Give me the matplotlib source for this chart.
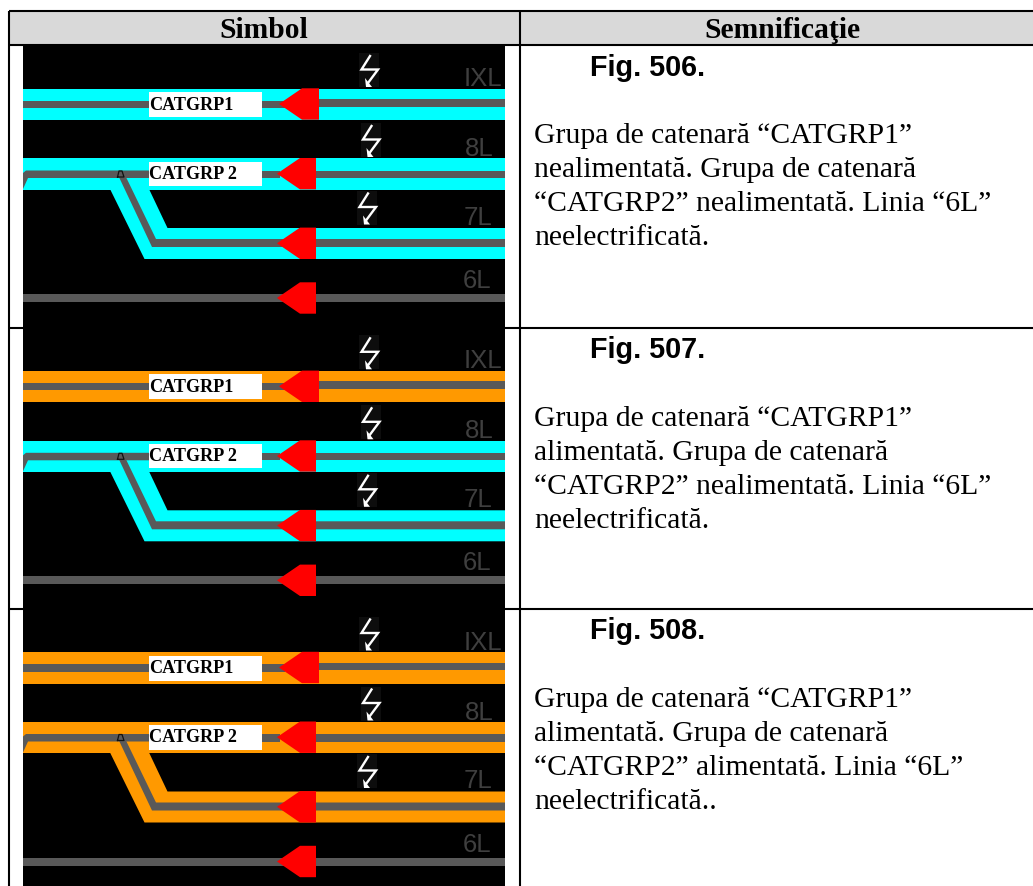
# table of catenary group symbols, three rows, each with a track diagram drawn by hand
import matplotlib
matplotlib.use('Agg')
import matplotlib.pyplot as plt
from matplotlib.patches import Polygon, Rectangle

headers = ['Simbol', 'Semnificaţie']
fig_labels = ['Fig. 506.', 'Fig. 507.', 'Fig. 508.']
descriptions = [
    ['Grupa de catenară “CATGRP1”', 'nealimentată. Grupa de catenară', '“CATGRP2” nealimentată. Linia “6L”', 'neelectrificată.'],
    ['Grupa de catenară “CATGRP1”', 'alimentată. Grupa de catenară', '“CATGRP2” nealimentată. Linia “6L”', 'neelectrificată.'],
    ['Grupa de catenară “CATGRP1”', 'alimentată. Grupa de catenară', '“CATGRP2” alimentată. Linia “6L”', 'neelectrificată..'],
]
group_labels = ['CATGRP1', 'CATGRP\u20092']
line_labels = ['IXL', '8L', '7L', '6L']
group1_state = ['off', 'on', 'on']
group2_state = ['off', 'off', 'on']

state_colors = {'off': '#00ffff', 'on': '#ff9900'}
GRAY = '#595959'
RED = '#ff0000'
LABEL_GRAY = '#3f3f3f'

fig = plt.figure(figsize=(10.33, 8.86), dpi=100)
ax = fig.add_axes([0, 0, 1, 1])
ax.set_xlim(0, 1033)
ax.set_ylim(886, 0)
ax.axis('off')


def poly(pts, color, z=3):
    ax.add_patch(Polygon(pts, closed=True, fc=color, ec='none', zorder=z))


def rect(x0, y0, x1, y1, color, z=3):
    ax.add_patch(Rectangle((x0, y0), x1 - x0, y1 - y0, fc=color, ec='none', zorder=z))


def signal(xr, y, dx=0):
    # red triangle pointing left, flat top and bottom at the back
    poly([(xr - 39 - dx, y), (xr - 16 - dx, y - 15.7), (xr, y - 15.7), (xr, y + 15.7), (xr - 16 - dx, y + 15.7)], RED, 5)


def bolt(x, y):
    rect(x - 11, y - 3, x + 9, y + 31, '#0d0d0d', 2.5)
    ax.plot([x, x - 8.5, x + 8, x - 2], [y, y + 13.5, y + 13.5, y + 27], color='white', lw=1.7, zorder=4, solid_joinstyle='miter')
    poly([(x - 5, y + 22), (x - 4, y + 31), (x + 2, y + 31)], 'white', 4)


def panel(dy, color1, color2):
    # first track, group 1
    rect(23, 88.5 + dy, 505, 120 + dy, color1)
    rect(23, 100.7 + dy, 149, 108 + dy, GRAY, 4)
    rect(262, 100.7 + dy, 285, 108 + dy, GRAY, 4)
    rect(319, 99 + dy, 505, 106.7 + dy, GRAY, 4)
    rect(149, 92 + dy, 262, 117 + dy, 'white', 4)
    signal(319, 104 + dy, 1)

    # second track, group 2, with the diagonal down to the third track
    rect(23, 158.3 + dy, 505, 189.5 + dy, color2)
    poly([(110, 189 + dy), (144.5, 259 + dy), (505, 259 + dy), (505, 228 + dy), (167.5, 228 + dy), (149, 189 + dy)], color2)
    poly([(23, 189 + dy), (23, 173 + dy), (26, 170.5 + dy), (149, 170.5 + dy), (149, 178 + dy), (28, 178 + dy)], GRAY, 4)
    rect(262, 170.5 + dy, 280, 178 + dy, GRAY, 4)
    rect(316, 170.5 + dy, 505, 178 + dy, GRAY, 4)
    poly([(118, 175 + dy), (125, 175 + dy), (156, 239 + dy), (505, 239 + dy), (505, 247 + dy), (152, 247 + dy)], GRAY, 4)
    ax.plot([117.5, 119, 122, 124, 117.5], [177 + dy, 171 + dy, 171 + dy, 177 + dy, 177 + dy], color='#111111', lw=0.9, zorder=4.5)
    rect(149, 161.5 + dy, 262, 186 + dy, 'white', 4)
    signal(316, 173.7 + dy)
    signal(316, 243.3 + dy)

    # fourth track is not electrified
    rect(23, 294 + dy, 505, 302 + dy, GRAY, 4)
    signal(316, 298 + dy)

    for xb, yb in [(370, 56), (371.5, 126), (368, 193.5)]:
        bolt(xb, yb + dy)

    for name, xt, yt in zip(line_labels, [464, 464.5, 463.5, 463], [86, 156, 225, 288]):
        ax.text(xt, yt + dy, name, family='Liberation Sans', fontsize=18.5, color=LABEL_GRAY,
                ha='left', va='baseline', zorder=4)

    ax.text(149, 109.5 + dy, group_labels[0], family=['Liberation Serif', 'DejaVu Serif'], weight='bold', fontsize=13.1,
            color='black', ha='left', va='baseline', zorder=6)
    ax.text(149, 179 + dy, group_labels[1], family=['Liberation Serif', 'DejaVu Serif'], weight='bold', fontsize=13.1,
            color='black', ha='left', va='baseline', zorder=6)


# table frame
rect(9, 11, 1033, 45, '#d9d9d9', 1)
for y in [11, 45, 327.6, 608.7]:
    ax.plot([9, 1033], [y, y], color='black', lw=1.5, zorder=1.5, solid_capstyle='butt')
ax.plot([9, 9], [10.5, 886], color='black', lw=1.5, zorder=1.5, solid_capstyle='butt')
ax.plot([519.7, 519.7], [10.5, 886], color='black', lw=1.5, zorder=1.5, solid_capstyle='butt')

ax.text(264, 37.7, headers[0], family='Liberation Serif', weight='bold', fontsize=21.3, ha='center', va='baseline', color='black')
ax.text(782, 37.7, headers[1], family='Liberation Serif', weight='bold', fontsize=21.3, ha='center', va='baseline', color='black')

# black picture background runs through all three rows
rect(23, 46, 505, 886, 'black', 2)

offsets = [0, 282.3, 563.5]
for i, dy in enumerate(offsets):
    panel(dy, state_colors[group1_state[i]], state_colors[group2_state[i]])
    ax.text(590, 75.5 + dy, fig_labels[i], family='Liberation Sans', weight='bold', fontsize=20.7,
            color='black', ha='left', va='baseline')
    for j, line in enumerate(descriptions[i]):
        ax.text(534.5, 143.2 + j * 34 + dy, line, family='Liberation Serif', fontsize=21.3,
                color='black', ha='left', va='baseline')

fig.savefig('out.png', dpi=100, facecolor='white')
